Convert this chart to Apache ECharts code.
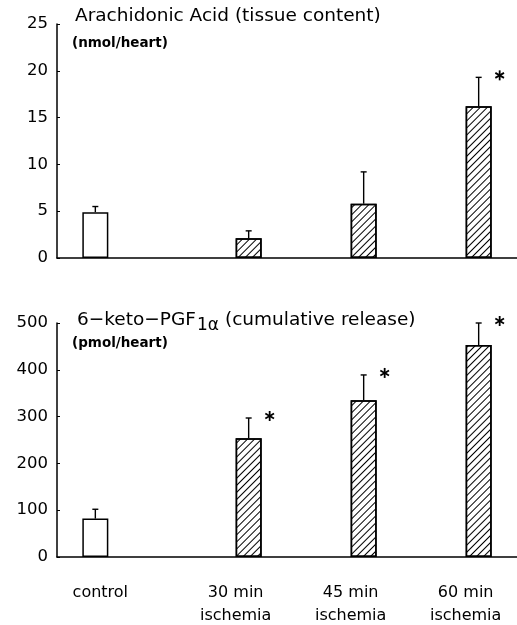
<!DOCTYPE html>
<html lang="en">
<head>
    <meta charset="UTF-8">
    <title>Arachidonic Acid / 6-keto-PGF1α</title>
    <style>
        html, body { margin: 0; padding: 0; background: #fff; }
        #chart { width: 517px; height: 625px; }
    </style>
</head>
<body>
<div id="chart"></div>
<script src="https://cdn.jsdelivr.net/npm/echarts@6/dist/echarts.min.js"></script>
<script>
    'use strict';
    // x slots, blanks keep the original uneven spacing between groups
    let slots = ['', 'control', '', '', '', '30 min\nischemia', '', '', '45 min\nischemia', '', '', '60 min\nischemia', ''];
    let groups = ['control', '30 min\nischemia', '45 min\nischemia', '60 min\nischemia'];

    // Arachidonic acid, nmol/heart
    let aaMean = [4.9, 2.1, 5.8, 16.2];
    let aaErr = [0.6, 0.8, 3.4, 3.1];
    let aaSig = [false, false, false, true];

    // 6-keto-PGF1a, pmol/heart
    let pgMean = [82, 254, 335, 453];
    let pgErr = [20, 43, 54, 47];
    let pgSig = [false, true, true, true];

    let FONT = 'DejaVu Sans';

    let hatch = {
        symbol: 'rect', symbolSize: 1, color: '#000',
        dashArrayX: [1, 0], dashArrayY: [1, 3.2], rotation: -Math.PI / 4
    };

    function barData(mean) {
        return slots.map(function (s) {
            let i = groups.indexOf(s);
            if (i < 0) return '-';
            if (s === 'control') return mean[i];
            return {value: mean[i], itemStyle: {decal: hatch}};
        });
    }

    function errData(mean, err, sig) {
        return groups.map(function (g, i) {
            return [slots.indexOf(g), mean[i], mean[i] + err[i], sig[i] ? 1 : 0];
        });
    }

    function renderErr(params, api) {
        let top = api.coord([api.value(0), api.value(2)]);
        let bot = api.coord([api.value(0), api.value(1)]);
        let st = {stroke: '#000', lineWidth: 1.4};
        let kids = [
            {type: 'line', shape: {x1: top[0], y1: top[1], x2: bot[0], y2: bot[1]}, style: st},
            {type: 'line', shape: {x1: top[0] - 3, y1: top[1], x2: top[0] + 3, y2: top[1]}, style: st}
        ];
        if (api.value(3)) {
            let cx = top[0] + 21, cy = top[1] - 2, r = 5;
            for (let k = 0; k < 3; k++) {
                let a = Math.PI / 2 + k * Math.PI / 3;
                kids.push({
                    type: 'line',
                    shape: {x1: cx - r * Math.cos(a), y1: cy - r * Math.sin(a), x2: cx + r * Math.cos(a), y2: cy + r * Math.sin(a)},
                    style: {stroke: '#000', lineWidth: 1.8}
                });
            }
        }
        return {type: 'group', children: kids};
    }

    function measure(txt, size) {
        let ctx = document.createElement('canvas').getContext('2d');
        ctx.font = size + 'px "' + FONT + '"';
        return ctx.measureText(txt).width;
    }

    function txt(text, left, top, size, bold) {
        return {
            type: 'text', left: left, top: top,
            style: {text: text, fill: '#000', fontSize: size, fontFamily: FONT, fontWeight: bold ? 'bold' : 'normal'}
        };
    }

    let axisLine = {show: true, lineStyle: {color: '#000', width: 1.5}};
    let yLabel = {color: '#000', fontSize: 16.5, fontFamily: FONT, margin: 9};

    let xLabels = slots.map(function (s) {
        if (s === 'control') return {value: s, textStyle: {padding: [0, 0, 0, 10]}};
        if (s) return {value: s, textStyle: {padding: [0, 26, 0, 0]}};
        return s;
    });

    let t2a = '6\u2212keto\u2212PGF';
    let t2aW = measure(t2a, 18.5);
    let t2bW = measure('1\u03b1', 17);

    let option = {
        animation: false,
        backgroundColor: '#fff',
        grid: [
            {left: 57, right: 0, top: 24, height: 234, containLabel: false, outerBoundsMode: 'none'},
            {left: 57, right: 0, top: 323, height: 234, containLabel: false, outerBoundsMode: 'none'}
        ],
        xAxis: [
            {type: 'category', gridIndex: 0, data: slots, boundaryGap: false,
                axisLine: axisLine, axisTick: {show: false}, axisLabel: {show: false}},
            {type: 'category', gridIndex: 1, data: xLabels, boundaryGap: false,
                axisLine: axisLine, axisTick: {show: false},
                axisLabel: {interval: 0, color: '#000', fontSize: 16, fontFamily: FONT, lineHeight: 23, margin: 24}}
        ],
        yAxis: [
            {type: 'value', gridIndex: 0, min: 0, max: 25, interval: 5,
                axisLine: axisLine, axisTick: {show: true, inside: true, length: 3, lineStyle: {color: '#000'}},
                splitLine: {show: false}, axisLabel: yLabel},
            {type: 'value', gridIndex: 1, min: 0, max: 500, interval: 100,
                axisLine: axisLine, axisTick: {show: true, inside: true, length: 3, lineStyle: {color: '#000'}},
                splitLine: {show: false}, axisLabel: yLabel}
        ],
        series: [
            {type: 'bar', xAxisIndex: 0, yAxisIndex: 0, barWidth: 26, data: barData(aaMean),
                itemStyle: {color: '#fff', borderColor: '#000', borderWidth: 1.5}},
            {type: 'custom', xAxisIndex: 0, yAxisIndex: 0, data: errData(aaMean, aaErr, aaSig),
                renderItem: renderErr, z: 3},
            {type: 'bar', xAxisIndex: 1, yAxisIndex: 1, barWidth: 26, data: barData(pgMean),
                itemStyle: {color: '#fff', borderColor: '#000', borderWidth: 1.5}},
            {type: 'custom', xAxisIndex: 1, yAxisIndex: 1, data: errData(pgMean, pgErr, pgSig),
                renderItem: renderErr, z: 3}
        ],
        graphic: [
            txt('Arachidonic Acid (tissue content)', 75, 7, 18.5),
            txt('(nmol/heart)', 72, 36, 13.5, true),
            txt(t2a, 77, 311, 18.5),
            txt('1\u03b1', 77 + t2aW + 1, 317, 17),
            txt('(cumulative release)', 77 + t2aW + t2bW + 7, 311, 18.5),
            txt('(pmol/heart)', 72, 336, 13.5, true)
        ]
    };

    let chart = echarts.init(document.getElementById('chart'));
    chart.setOption(option);
</script>
</body>
</html>
